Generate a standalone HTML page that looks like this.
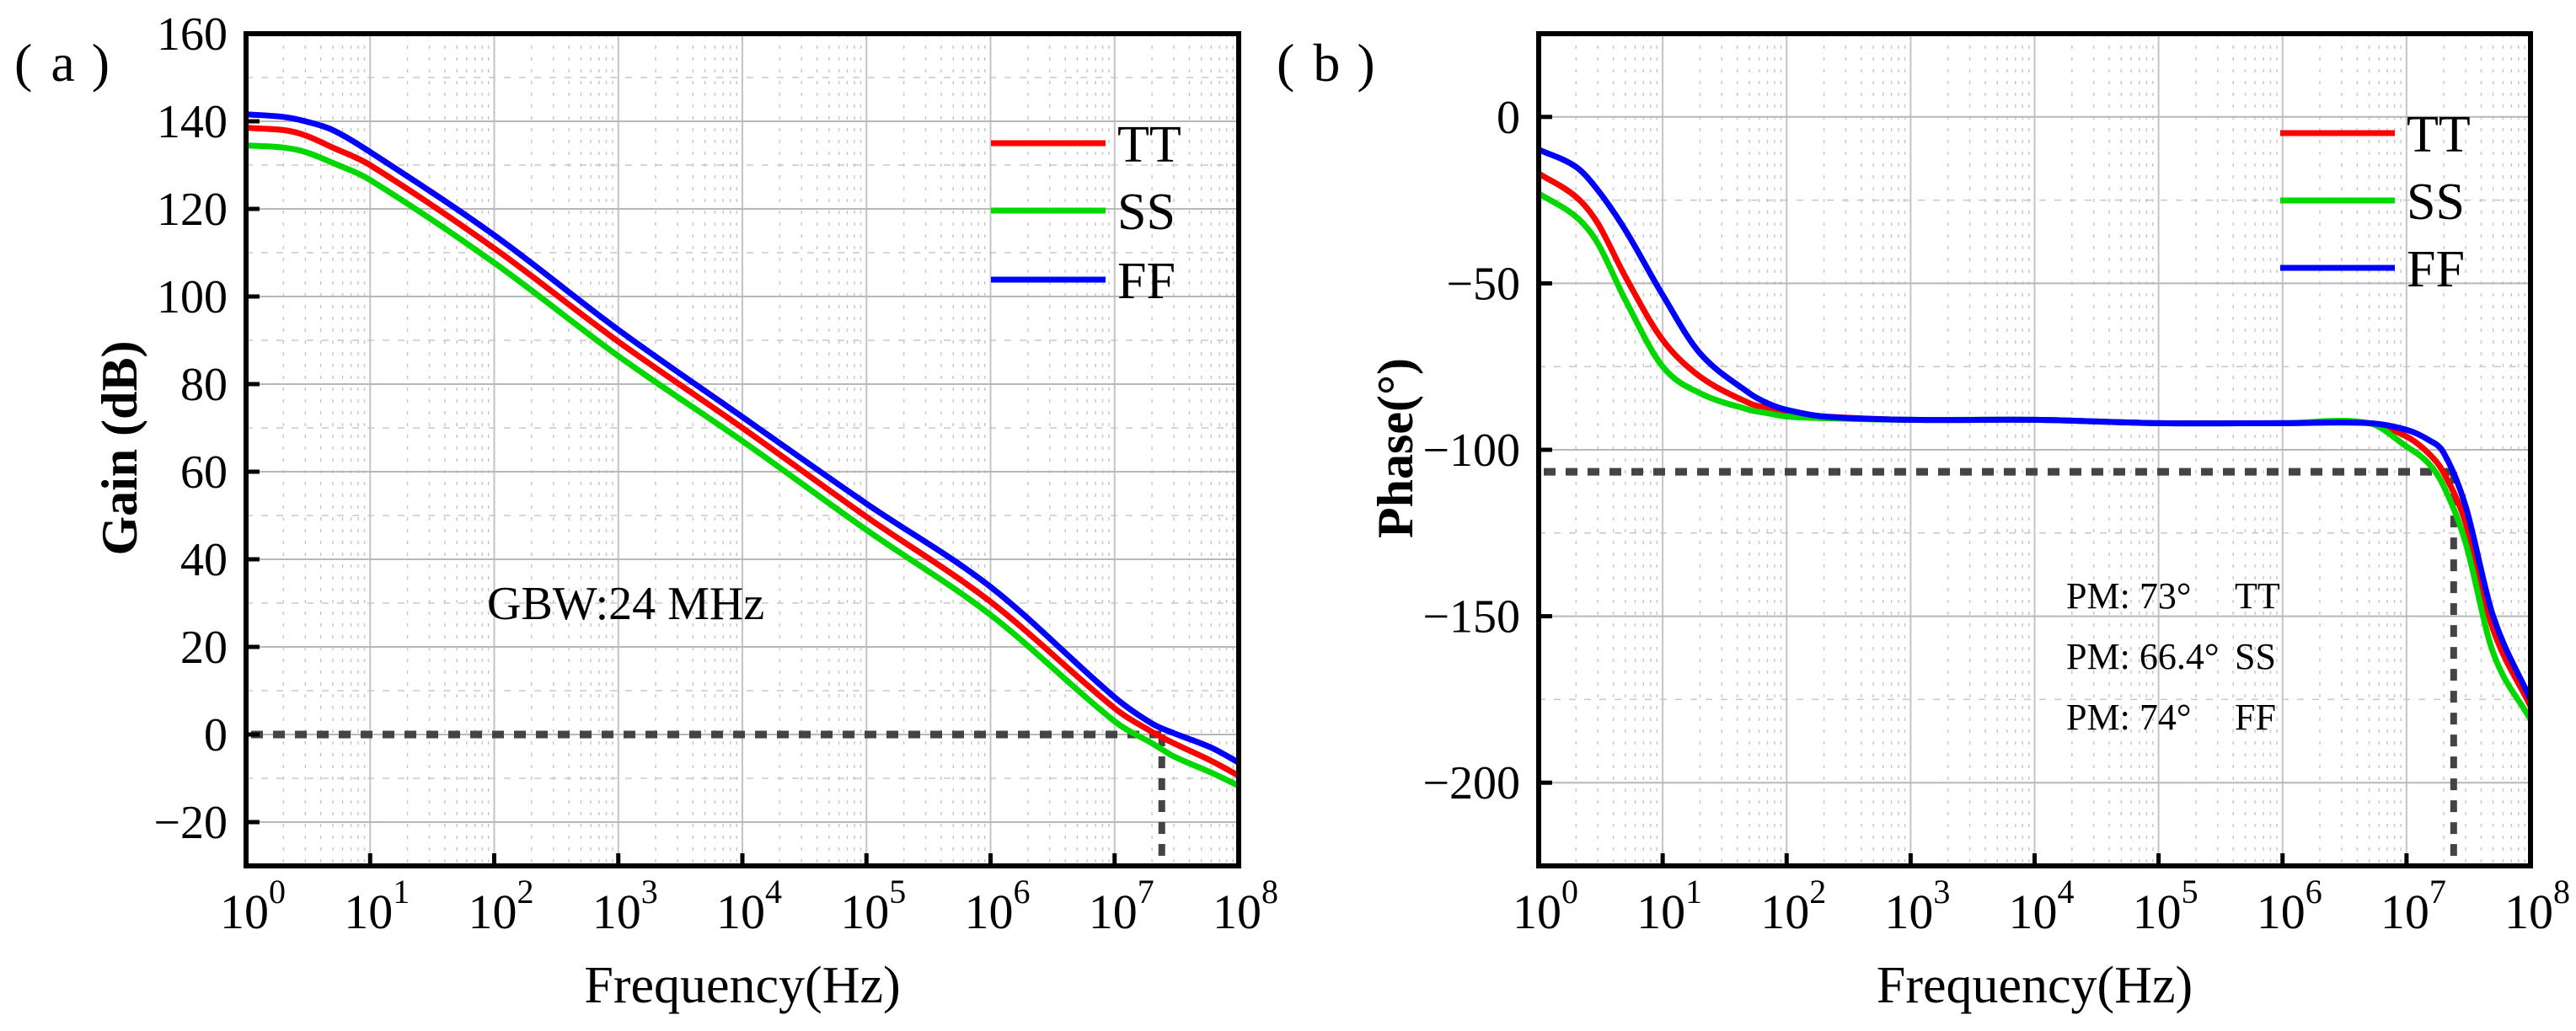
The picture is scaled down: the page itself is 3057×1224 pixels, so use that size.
<!DOCTYPE html>
<html><head><meta charset="utf-8"><style>
html,body{margin:0;padding:0;background:#fff;}
svg{display:block;}
svg text{font-family:"Liberation Serif","Noto Serif CJK SC",serif;}
</style></head><body>
<svg id="chart" width="3057" height="1224" viewBox="0 0 3057 1224" xmlns="http://www.w3.org/2000/svg" font-family="Liberation Serif, serif"></svg>
<script>
const decades = [0,1,2,3,4,5,6,7,8];
const gainTicks = [-20,0,20,40,60,80,100,120,140,160];
const phaseTicks = [-200,-150,-100,-50,0];
const seriesNames = ["TT","SS","FF"];
const seriesColors = ["#ff0000","#00d800","#0000ff"];
const gainFreq = [1,2,3,5,10,100,1e3,1e4,1e5,1e6,1e7,2e7,3e7,6e7,1e8];
const gainTT = [138.5,138,136.8,134,130,111,89.7,70,49.7,30.3,6,0.6,-2,-6,-9.4];
const gainSS = [134.5,134,133,130.5,126.6,107.7,86.4,67,46.7,27.3,3,-2,-5,-8.7,-11.7];
const gainFF = [141.6,141,140,138,133,114,92.4,72.5,52.7,33.7,8.5,2.5,0.3,-3,-6.4];
const phaseFreq = [1,2,3,5,10,20,50,70,100,200,1e3,1e4,1e5,1e6,5e6,1e7,1.5e7,2e7,3e7,5e7,1e8];
const phaseTT = [-17,-24,-32,-48,-67,-78,-86,-87.5,-89,-90,-91,-91,-92,-92,-92,-96,-101,-107,-122,-154,-177];
const phaseSS = [-23,-30,-38,-55,-75,-83,-88,-89,-90,-90.5,-91,-91,-92,-92,-92,-99,-104,-111,-128,-161,-181];
const phaseFF = [-9.8,-15,-22,-34,-53.5,-71,-83,-86,-88,-90,-91,-91,-92,-92,-92,-94,-97,-101,-117,-150,-175];
const gbwFreq = 2.4e7;
const pmPhase = -106.6;
const pmLabels = ["PM: 73°","PM: 66.4°","PM: 74°"];

const NS="http://www.w3.org/2000/svg";
const svg=document.getElementById('chart');
function mk(tag,attrs,parent){const e=document.createElementNS(NS,tag);for(const k in attrs)e.setAttribute(k,attrs[k]);(parent||svg).appendChild(e);return e;}

function panel(opt){
  const g=mk('g',{});
  
  
  const L=opt.x0,R=opt.x1,T=40,B=1028;
  const xs=v=>L+(Math.log10(v))/8*(R-L);
  const ys=v=>T+(opt.ymax-v)/(opt.ymax-opt.ymin)*(B-T);
  for(let d=0;d<8;d++)for(let m=2;m<=9;m++){
    const x=xs(m*Math.pow(10,d));
    const l=mk('line',{x1:x,x2:x,y1:T,y2:B,stroke:'#c8c8c8','stroke-width':1.5,'stroke-dasharray':'4 10'},g);
    
    
  }
  const step=opt.ticks[1]-opt.ticks[0];
  for(let v=opt.ticks[0]-step/2; v<opt.ymax; v+=step){
    if(v<=opt.ymin)continue;
    const y=ys(v);
    const l=mk('line',{x1:L,x2:R,y1:y,y2:y,stroke:'#c8c8c8','stroke-width':1.5,'stroke-dasharray':'8 10'},g);
    
    
  }
  decades.forEach(d=>{
    const x=xs(Math.pow(10,d));
    const l=mk('line',{x1:x,x2:x,y1:T,y2:B,stroke:'#c4c4c4','stroke-width':2},g);
    
    
  });
  opt.ticks.forEach(v=>{
    const y=ys(v);
    const l=mk('line',{x1:L,x2:R,y1:y,y2:y,stroke:'#b8b8b8','stroke-width':2},g);
    
    
  });
  const hx=xs(gbwFreq), hy=ys(opt.markY);
  const dh=mk('line',{x1:L+6,x2:hx,y1:hy,y2:hy,stroke:'#444','stroke-width':9,'stroke-dasharray':'14 12'},g);
  
  
  const dv=mk('line',{x1:hx,x2:hx,y1:hy,y2:B,stroke:'#444','stroke-width':8,'stroke-dasharray':'14 12'},g);
  
  
  const clip=mk('clipPath',{id:'clip'+opt.name},g);
  mk('rect',{x:L,y:T,width:R-L,height:B-T},clip);
  opt.series.forEach((vals,i)=>{
    const pts=opt.freq.map((f,k)=>[xs(f),ys(vals[k])]);
    let d='M'+pts[0][0]+','+pts[0][1];
    for(let k=0;k<pts.length-1;k++){
      const p0=pts[Math.max(0,k-1)],p1=pts[k],p2=pts[k+1],p3=pts[Math.min(pts.length-1,k+2)];
      const h=p2[0]-p1[0];
      const s1=(p2[1]-p0[1])/Math.max(1e-6,(p2[0]-p0[0]));
      const s2=(p3[1]-p1[1])/Math.max(1e-6,(p3[0]-p1[0]));
      const c1=[p1[0]+h/3,p1[1]+s1*h/3];
      const c2=[p2[0]-h/3,p2[1]-s2*h/3];
      d+=' C'+c1[0]+','+c1[1]+' '+c2[0]+','+c2[1]+' '+p2[0]+','+p2[1];
    }
    const p=mk('path',{d:d,fill:'none',stroke:seriesColors[i],'stroke-width':7,'clip-path':'url(#clip'+opt.name+')'},g);
    
    
  });
  decades.forEach(d=>{
    const x=xs(Math.pow(10,d));
    const t=mk('line',{x1:x,x2:x,y1:B,y2:B-15,stroke:'#000','stroke-width':5},g);
    
    
    const tx=mk('text',{x:x+8,y:1102,'font-size':58,'text-anchor':'middle'},g);
    
    
    tx.innerHTML='10<tspan font-size="40" dy="-30">'+d+'</tspan>';
  });
  opt.ticks.forEach(v=>{
    const y=ys(v);
    const t=mk('line',{x1:L,x2:L+16,y1:y,y2:y,stroke:'#000','stroke-width':5},g);
    
    
    const tx=mk('text',{x:L-22,y:y+19,'font-size':56,'text-anchor':'end'},g);
    
    
    tx.textContent=(v<0?'\u2212'+(-v):String(v));
  });
  const fr=mk('rect',{x:L,y:T,width:R-L,height:B-T,fill:'none',stroke:'#000','stroke-width':6},g);
  
  
  const xt=mk('text',{x:(L+R)/2,y:1190,'font-size':62,'text-anchor':'middle'},g);
  
  
  xt.textContent='Frequency(Hz)';
  const yt=mk('text',{x:0,y:0,'font-size':60,'font-weight':'bold','text-anchor':'middle',transform:'translate('+opt.ytx+',532) rotate(-90)'},g);
  
  
  yt.textContent=opt.ytitle;
  opt.legendY.forEach((ly,i)=>{
    const ll=mk('line',{x1:opt.legX,x2:opt.legX+136,y1:ly,y2:ly,stroke:seriesColors[i],'stroke-width':7},g);
    
    
    const lt=mk('text',{x:opt.legX+150,y:ly+22,'font-size':62},g);
    
    
    lt.textContent=seriesNames[i];
  });
  const pl=mk('text',{x:opt.plx,y:96,'font-size':64},g);
  
  
  pl.innerHTML='(<tspan dx="22">'+opt.letter+'</tspan><tspan dx="20">)</tspan>';
  return {g,xs,ys};
}

const a=panel({name:'gain-panel',x0:292,x1:1470,ymin:-30,ymax:160,ticks:gainTicks,freq:gainFreq,
  series:[gainTT,gainSS,gainFF],markY:0,ytitle:'Gain (dB)',ytx:162,legendY:[170,250,332],legX:1176,plx:17,letter:'a'});
const gbw=mk('text',{x:578,y:735,'font-size':56},a.g);


gbw.textContent='GBW:24 MHz';

const b=panel({name:'phase-panel',x0:1826,x1:3003,ymin:-225,ymax:25,ticks:phaseTicks,freq:phaseFreq,
  series:[phaseTT,phaseSS,phaseFF],markY:pmPhase,ytitle:'Phase(°)',ytx:1676,legendY:[158,238,318],legX:2706,plx:1515,letter:'b'});
pmLabels.forEach((s,i)=>{
  const t=mk('text',{x:2452,y:722+i*72,'font-size':44},b.g);
  
  
  t.textContent=s;
  const n=mk('text',{x:2652,y:722+i*72,'font-size':44},b.g);
  
  
  n.textContent=seriesNames[i];
});
</script>
</body></html>
